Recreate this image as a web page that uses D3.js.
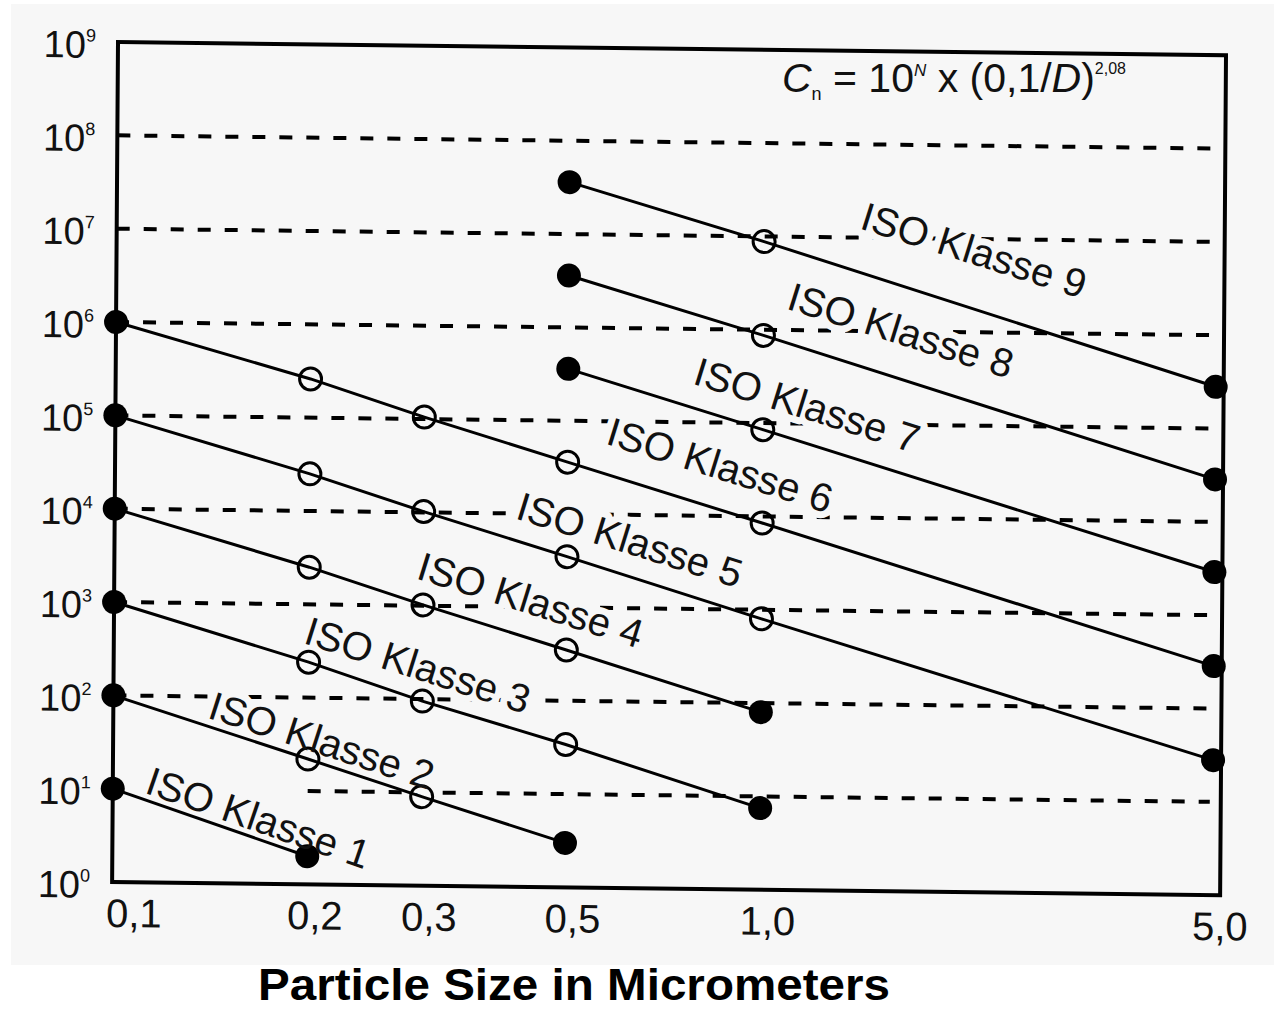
<!DOCTYPE html>
<html>
<head>
<meta charset="utf-8">
<script src="https://cdn.jsdelivr.net/npm/d3@7"></script>
<style>
body { margin: 0; background: #fff; }
svg text { font-family: "Liberation Sans", Arial, sans-serif; }
</style>
</head>
<body>
<div id="chart"></div>
<script>
// particle sizes (micrometers) and their tick labels
var sizes = [0.1, 0.2, 0.3, 0.5, 1.0, 5.0];
var xTickLabels = ["0,1", "0,2", "0,3", "0,5", "1,0", "5,0"];
var yExponents = [0, 1, 2, 3, 4, 5, 6, 7, 8, 9];

// dashed reference lines (powers of ten) and where each starts
var gridExponents = [1, 2, 3, 4, 5, 6, 7, 8];
var gridFrom = [0.2, 0.1, 0.1, 0.1, 0.1, 0.1, 0.1, 0.1];

// concentration limits per class, one value per size (null = not defined)
var classNames = ["ISO Klasse 1", "ISO Klasse 2", "ISO Klasse 3", "ISO Klasse 4", "ISO Klasse 5",
                  "ISO Klasse 6", "ISO Klasse 7", "ISO Klasse 8", "ISO Klasse 9"];
var class1 = [10, 2, null, null, null, null];
var class2 = [100, 22, 9, 3, null, null];
var class3 = [1000, 240, 95, 34, 7.5, null];
var class4 = [10000, 2500, 1020, 350, 80, null];
var class5 = [100000, 25000, 10200, 3500, 800, 28];
var class6 = [1000000, 260000, 105000, 36000, 8500, 285];
var class7 = [null, null, null, 360000, 85000, 2900];
var class8 = [null, null, null, 3600000, 870000, 28500];
var class9 = [null, null, null, 36000000, 8800000, 280000];
var classValues = [class1, class2, class3, class4, class5, class6, class7, class8, class9];

// where the class labels sit (centre of text, in data units)
var labelSize = [0.168, 0.21, 0.295, 0.44, 0.625, 0.86, 1.17, 1.63, 2.11];
var labelCount = [5.1, 35, 231, 1190, 5400, 35000, 158000, 1030000, 7600000];

var W = 1274, H = 1012;
var width = 1100, height = 840;
var bg = "#f7f7f7";

var x = d3.scaleLog().domain([0.1, 5]).range([0, width]);
var y = d3.scaleLog().domain([1, 1e9]).range([height, 0]);

var svg = d3.select("#chart").append("svg")
    .attr("width", W)
    .attr("height", H);

svg.append("rect")
    .attr("x", 11).attr("y", 4)
    .attr("width", W - 11).attr("height", 961)
    .attr("fill", bg);

// the scanned original is slightly skewed
var g = svg.append("g")
    .attr("transform", "matrix(1,0.012,-0.007,1,118,42)");

// dashed lines
g.selectAll(".grid")
    .data(gridExponents)
    .enter().append("line")
    .attr("class", "grid")
    .attr("x1", function(d, i) { return x(gridFrom[i]); })
    .attr("x2", width - 3)
    .attr("y1", function(d) { return y(Math.pow(10, d)); })
    .attr("y2", function(d) { return y(Math.pow(10, d)); })
    .attr("stroke", "#000")
    .attr("stroke-width", 4)
    .attr("stroke-dasharray", "13,14");

// frame
g.append("rect")
    .attr("x", 0).attr("y", 0)
    .attr("width", width + 8).attr("height", height)
    .attr("fill", "none")
    .attr("stroke", "#000")
    .attr("stroke-width", 4);

// build series
var series = classValues.map(function(vals, k) {
    var pts = [];
    vals.forEach(function(v, i) {
        if (v != null) pts.push({size: sizes[i], value: v});
    });
    pts.forEach(function(p, i) { p.end = (i === 0 || i === pts.length - 1); });
    return {name: classNames[k], pts: pts, lx: labelSize[k], ly: labelCount[k]};
});

function labelTransform(s) {
    var a = s.pts[0], b = s.pts[s.pts.length - 1];
    var ang = Math.atan2(y(b.value) - y(a.value), x(b.size) - x(a.size)) * 180 / Math.PI;
    return "translate(" + x(s.lx) + "," + y(s.ly) + ") rotate(" + ang + ")";
}

// label halos knock out the dashed lines
g.selectAll(".halo")
    .data(series)
    .enter().append("text")
    .attr("class", "halo")
    .attr("transform", labelTransform)
    .attr("text-anchor", "middle")
    .attr("dy", "0.35em")
    .style("font-size", "40px")
    .attr("fill", "none")
    .attr("stroke", bg)
    .attr("stroke-width", 14)
    .attr("stroke-linejoin", "round")
    .text(function(d) { return d.name; });

var line = d3.line()
    .x(function(d) { return x(d.size); })
    .y(function(d) { return y(d.value); });

g.selectAll(".cls")
    .data(series)
    .enter().append("path")
    .attr("class", "cls")
    .attr("d", function(d) { return line(d.pts); })
    .attr("fill", "none")
    .attr("stroke", "#000")
    .attr("stroke-width", 3);

series.forEach(function(s) {
    g.selectAll(null)
        .data(s.pts)
        .enter().append("circle")
        .attr("cx", function(d) { return x(d.size); })
        .attr("cy", function(d) { return y(d.value); })
        .attr("r", function(d) { return d.end ? 12 : 11; })
        .attr("fill", function(d) { return d.end ? "#000" : "none"; })
        .attr("stroke", "#000")
        .attr("stroke-width", function(d) { return d.end ? 0 : 3; });
});

g.selectAll(".lbl")
    .data(series)
    .enter().append("text")
    .attr("class", "lbl")
    .attr("transform", labelTransform)
    .attr("text-anchor", "middle")
    .attr("dy", "0.35em")
    .style("font-size", "40px")
    .attr("fill", "#111")
    .text(function(d) { return d.name; });

// y tick labels 10^n
var yl = g.selectAll(".ylab")
    .data(yExponents)
    .enter().append("text")
    .attr("class", "ylab")
    .attr("x", -22)
    .attr("y", function(d) { return y(Math.pow(10, d)) + 16; })
    .attr("text-anchor", "end")
    .attr("fill", "#111");
yl.append("tspan").style("font-size", "38px").text("10");
yl.append("tspan").style("font-size", "18px").attr("dy", -16).text(function(d) { return d; });

// x tick labels
g.selectAll(".xlab")
    .data(sizes)
    .enter().append("text")
    .attr("class", "xlab")
    .attr("x", function(d, i) { return x(d) + (i === 0 ? 22 : 8); })
    .attr("y", height + 45)
    .attr("text-anchor", "middle")
    .style("font-size", "40px")
    .attr("fill", "#111")
    .text(function(d, i) { return xTickLabels[i]; });

// formula
var f = svg.append("text")
    .attr("x", 782)
    .attr("y", 92)
    .attr("fill", "#111")
    .style("font-size", "41px");
f.append("tspan").style("font-style", "italic").text("C");
f.append("tspan").style("font-size", "18px").attr("dy", 8).text("n");
f.append("tspan").attr("dy", -8).text(" = 10");
f.append("tspan").style("font-size", "17px").style("font-style", "italic").attr("dy", -16).text("N");
f.append("tspan").attr("dy", 16).text(" x (0,1/");
f.append("tspan").style("font-style", "italic").text("D");
f.append("tspan").text(")");
f.append("tspan").style("font-size", "16px").attr("dy", -18).text("2,08");

// axis title
svg.append("text")
    .attr("x", 574)
    .attr("y", 1000)
    .attr("text-anchor", "middle")
    .attr("textLength", 632)
    .attr("lengthAdjust", "spacingAndGlyphs")
    .style("font-size", "44px")
    .style("font-weight", "bold")
    .attr("fill", "#000")
    .text("Particle Size in Micrometers");
</script>
</body>
</html>
